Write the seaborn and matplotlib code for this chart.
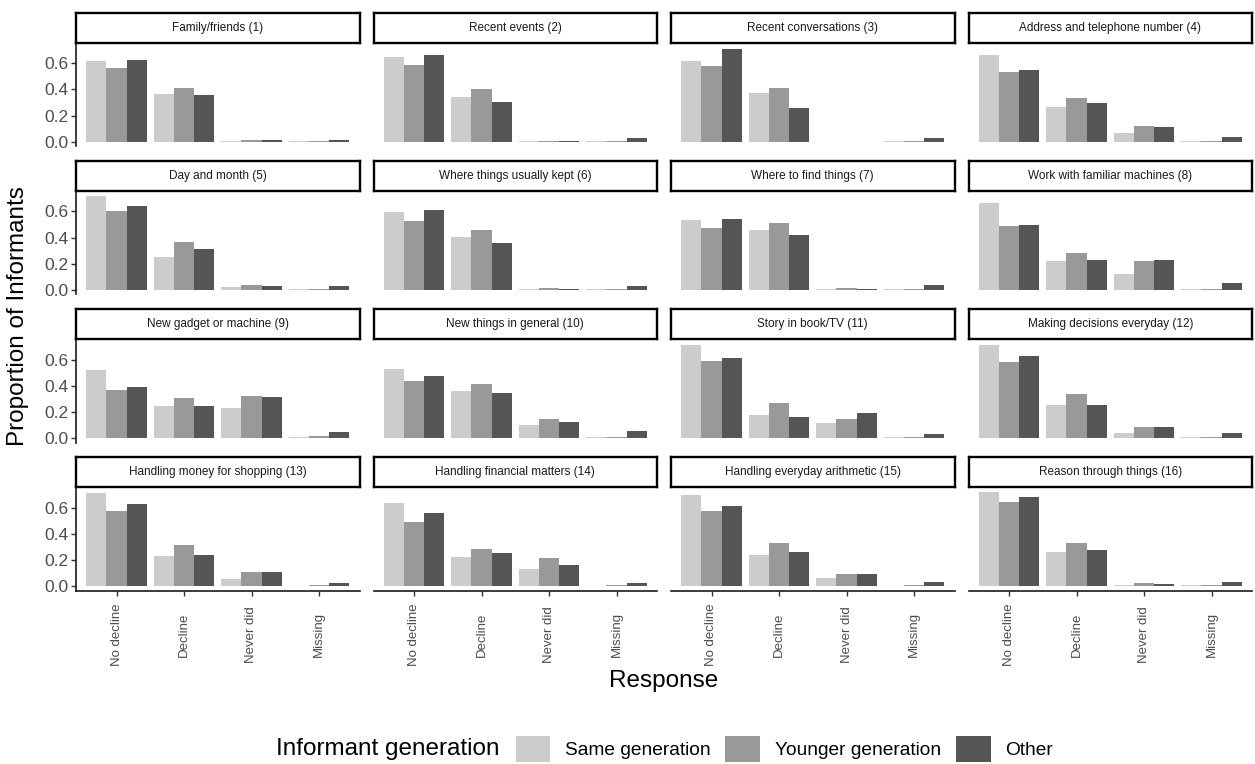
import matplotlib
matplotlib.use("Agg")
import matplotlib.pyplot as plt
import pandas as pd
import seaborn as sns
from matplotlib.patches import Patch

# ---- data -------------------------------------------------------------
items = [
    "Family/friends (1)", "Recent events (2)", "Recent conversations (3)",
    "Address and telephone number (4)", "Day and month (5)",
    "Where things usually kept (6)", "Where to find things (7)",
    "Work with familiar machines (8)", "New gadget or machine (9)",
    "New things in general (10)", "Story in book/TV (11)",
    "Making decisions everyday (12)", "Handling money for shopping (13)",
    "Handling financial matters (14)", "Handling everyday arithmetic (15)",
    "Reason through things (16)",
]
responses = ["No decline", "Decline", "Never did", "Missing"]
generations = ["Same generation", "Younger generation", "Other"]

# proportions per item, in the order of `responses`
same_gen = [
    [0.620, 0.363, 0.008, 0.004], [0.648, 0.342, 0.004, 0.004],
    [0.620, 0.373, 0.000, 0.004], [0.661, 0.263, 0.069, 0.004],
    [0.722, 0.250, 0.020, 0.004], [0.592, 0.401, 0.003, 0.003],
    [0.536, 0.454, 0.005, 0.003], [0.661, 0.220, 0.117, 0.003],
    [0.518, 0.244, 0.228, 0.005], [0.531, 0.359, 0.097, 0.005],
    [0.708, 0.177, 0.113, 0.003], [0.708, 0.251, 0.038, 0.003],
    [0.715, 0.228, 0.051, 0.000], [0.633, 0.223, 0.133, 0.000],
    [0.700, 0.236, 0.062, 0.000], [0.723, 0.262, 0.010, 0.004],
]
younger_gen = [
    [0.567, 0.414, 0.013, 0.006], [0.587, 0.401, 0.006, 0.006],
    [0.582, 0.408, 0.000, 0.005], [0.536, 0.337, 0.117, 0.005],
    [0.600, 0.365, 0.033, 0.003], [0.526, 0.457, 0.013, 0.004],
    [0.470, 0.511, 0.013, 0.004], [0.490, 0.283, 0.220, 0.008],
    [0.369, 0.308, 0.318, 0.010], [0.433, 0.415, 0.144, 0.006],
    [0.585, 0.267, 0.146, 0.003], [0.582, 0.338, 0.082, 0.003],
    [0.577, 0.313, 0.103, 0.005], [0.492, 0.285, 0.213, 0.006],
    [0.574, 0.326, 0.095, 0.005], [0.646, 0.326, 0.020, 0.006],
]
other_gen = [
    [0.625, 0.360, 0.012, 0.010], [0.666, 0.304, 0.003, 0.028],
    [0.710, 0.260, 0.000, 0.028], [0.551, 0.296, 0.110, 0.038],
    [0.641, 0.311, 0.026, 0.026], [0.608, 0.360, 0.005, 0.028],
    [0.539, 0.421, 0.006, 0.036], [0.498, 0.225, 0.230, 0.050],
    [0.392, 0.246, 0.310, 0.046], [0.477, 0.346, 0.123, 0.051],
    [0.613, 0.162, 0.192, 0.031], [0.628, 0.251, 0.085, 0.038],
    [0.631, 0.236, 0.105, 0.021], [0.556, 0.256, 0.159, 0.021],
    [0.610, 0.262, 0.095, 0.033], [0.679, 0.279, 0.013, 0.028],
]
y_ticks = [0.0, 0.2, 0.4, 0.6]
y_tick_labels = ["0.0", "0.2", "0.4", "0.6"]

rows = []
for gen, table in zip(generations, [same_gen, younger_gen, other_gen]):
    for item, vals in zip(items, table):
        for resp, v in zip(responses, vals):
            rows.append({"item": item, "response": resp,
                         "generation": gen, "prop": v})
df = pd.DataFrame(rows)

# ---- style ------------------------------------------------------------
sns.set_theme(style="white")
plt.rcParams["font.family"] = ["Liberation Sans", "DejaVu Sans"]

palette = dict(zip(generations, ["#CCCCCC", "#999999", "#555555"]))
text_grey = "#4D4D4D"
axis_col = "#1A1A1A"

W, H = 1255, 764
fig = plt.figure(figsize=(W / 100, H / 100), dpi=100)


def frac(x, y, w, h):
    return [x / W, 1 - (y + h) / H, w / W, h / H]


left0, col_step, panel_w = 76, 297.5, 283.5
top0, row_step, panel_h = 42.6, 148.1, 103.7
strip_h = 30

for k, item in enumerate(items):
    r, c = divmod(k, 4)
    px = left0 + c * col_step
    py = top0 + r * row_step
    ax = fig.add_axes(frac(px, py, panel_w, panel_h))
    sub = df[df["item"] == item]
    sns.barplot(data=sub, x="response", y="prop", hue="generation",
                order=responses, hue_order=generations, palette=palette,
                width=0.9, saturation=1, errorbar=None, linewidth=0,
                legend=False, ax=ax)
    ax.set_xlim(-0.6, 3.6)
    ax.set_ylim(-0.036, 0.759)
    ax.set_xlabel("")
    ax.set_ylabel("")
    for s in ax.spines.values():
        s.set_visible(False)
    ax.set_facecolor("white")

    if c == 0:
        ax.spines["left"].set_visible(True)
        ax.spines["left"].set_linewidth(1.2)
        ax.spines["left"].set_color(axis_col)
        ax.set_yticks(y_ticks)
        ax.set_yticklabels(y_tick_labels)
        ax.tick_params(axis="y", left=True, length=3.5, width=1.0,
                       color="#333333", labelsize=12.5,
                       labelcolor=text_grey, pad=2)
    else:
        ax.set_yticks(y_ticks)
        ax.tick_params(axis="y", left=False, labelleft=False)

    if r == 3:
        ax.spines["bottom"].set_visible(True)
        ax.spines["bottom"].set_linewidth(1.2)
        ax.spines["bottom"].set_color(axis_col)
        ax.tick_params(axis="x", bottom=True, length=3.5, width=1.0,
                       color="#333333", labelsize=9.5,
                       labelcolor=text_grey, pad=28)
        for lab in ax.get_xticklabels():
            lab.set_rotation(90)
            lab.set_va("center")
            lab.set_ha("center")
    else:
        ax.tick_params(axis="x", bottom=False, labelbottom=False)

    # facet strip
    sax = fig.add_axes(frac(px, py - strip_h, panel_w, strip_h))
    sax.set_xticks([])
    sax.set_yticks([])
    sax.set_facecolor("white")
    for s in sax.spines.values():
        s.set_visible(True)
        s.set_linewidth(1.7)
        s.set_color("black")
    sax.text(0.5, 0.5, item, ha="center", va="center", fontsize=8.5,
             color="#1A1A1A", transform=sax.transAxes)

# axis titles
fig.text(664 / W, 1 - 681 / H, "Response", ha="center", va="center",
         fontsize=17.5, color="black")
fig.text(18 / W, 1 - 316 / H, "Proportion of Informants", ha="center",
         va="center", rotation=90, fontsize=17.5, color="black")

# legend along the bottom
fig.text(276 / W, 1 - 749 / H, "Informant generation", ha="left",
         va="center", fontsize=17.5, color="black")
handles = [Patch(facecolor=palette[g], edgecolor="none") for g in generations]
fs = 13.8
fig.legend(handles, generations, loc="center left",
           bbox_to_anchor=(515.6 / W, 1 - 749 / H), ncol=3, frameon=False,
           fontsize=fs, handlelength=1.82, handleheight=1.72,
           handletextpad=0.78, columnspacing=0.75, borderpad=0,
           borderaxespad=0, labelcolor="black")

fig.savefig("out.png", dpi=100, facecolor="white")
